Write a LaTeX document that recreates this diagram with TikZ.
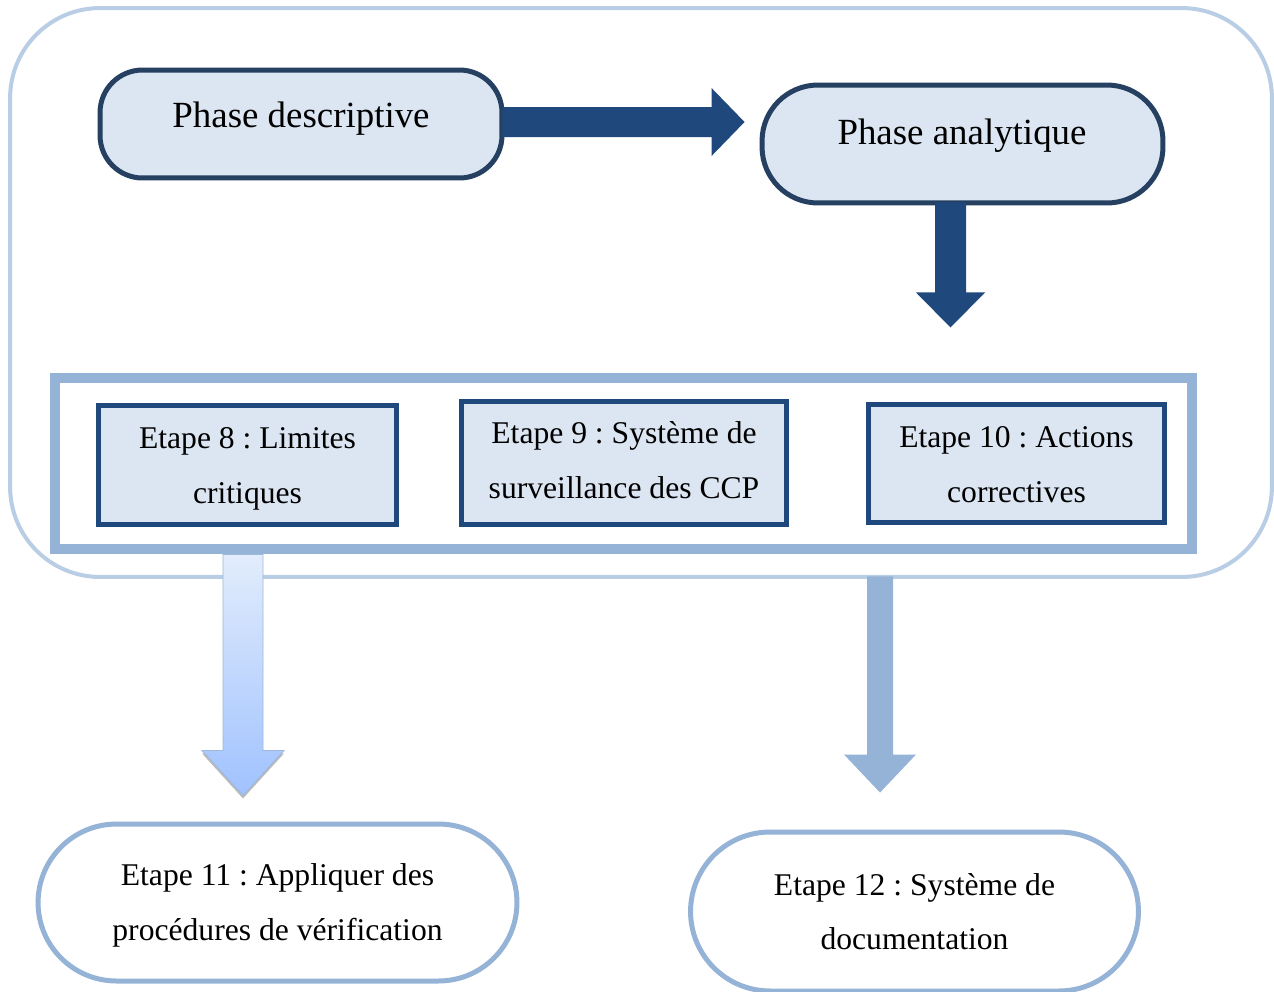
\documentclass[tikz,border=0pt]{standalone}
\usepackage{fontspec}
\setmainfont{Liberation Serif}
\usetikzlibrary{calc,shapes.misc}
\frenchspacing

\definecolor{frameblue}{HTML}{B9CDE5}
\definecolor{navyline}{HTML}{254061}
\definecolor{paleblue}{HTML}{DCE6F2}
\definecolor{arrownavy}{HTML}{1F497D}
\definecolor{midblue}{HTML}{95B3D7}
\definecolor{gradtop}{HTML}{E2ECFC}
\definecolor{gradbot}{HTML}{A0C2FF}
\definecolor{gradedge}{HTML}{9DB8DA}

\begin{document}
\begin{tikzpicture}[x=0.02cm,y=-0.02cm,
  phasebox/.style={draw=navyline, fill=paleblue, line width=0.1cm, inner sep=0pt},
  phasetext/.style={font=\fontsize{21}{25}\selectfont, inner sep=0pt},
  stepbox/.style={draw=arrownavy, fill=paleblue, line width=0.1cm, inner sep=0pt},
  endbox/.style={rounded rectangle, draw=midblue, fill=white, line width=0.1cm, inner sep=0pt},
  steptext/.style={align=center, inner sep=0pt, font=\fontsize{18}{31}\selectfont},
  navyarrow/.style={fill=arrownavy},
  lightarrow/.style={fill=midblue}]

\useasboundingbox (0,0) rectangle (1274,991);
\clip (0,0) rectangle (1274,991);

% outer rounded frame around the first two phases
\node[draw=frameblue, line width=0.08cm, rounded corners=1.8cm,
      minimum width=25.24cm, minimum height=11.38cm, inner sep=0pt] (frame) at (641,292.5) {};

% container holding steps 8 to 10
\node[draw=midblue, fill=white, line width=0.2cm, minimum width=22.74cm,
      minimum height=3.42cm, inner sep=0pt] (steps) at (623.5,463.5) {};

\node[stepbox, minimum width=5.98cm, minimum height=2.4cm] (s8) at (247.5,465) {};
\node[steptext] (s8t) at ($(s8)+(0,4)$) {Etape 8 : Limites\\critiques};
\node[stepbox, minimum width=6.52cm, minimum height=2.48cm] (s9) at (624,463) {};
\node[steptext] (s9t) at ($(s9)+(0,-3)$) {Etape 9 : Système de\\surveillance des CCP};
\node[stepbox, minimum width=5.94cm, minimum height=2.38cm] (s10) at (1016.5,463.5) {};
\node[steptext] (s10t) at ($(s10)+(0,1)$) {Etape 10 : Actions\\correctives};

% the two phases
\node[phasebox, rounded corners=0.85cm, minimum width=8.04cm, minimum height=2.16cm] (pd) at (301,124) {};
\node[phasetext] (pdt) at (301,119) {Phase descriptive};
\node[phasebox, rounded corners=1.12cm, minimum width=8.02cm, minimum height=2.36cm] (pa) at (962.5,144) {};
\node[phasetext] (pat) at (962,136) {Phase analytique};

% final steps
\node[endbox, minimum width=9.58cm, minimum height=3.14cm] (s11) at (277.5,902.5) {};
\node[steptext] (s11t) at ($(s11)+(0,3)$) {Etape 11 : Appliquer des\\procédures de vérification};
\node[endbox, minimum width=8.96cm, minimum height=3.18cm] (s12) at (914.5,911.5) {};
\node[steptext] (s12t) at (s12) {Etape 12 : Système de\\documentation};

% arrow end points
\coordinate (a1s) at ($(pd.east)+(-2,-2)$);
\coordinate (a1t) at ($(pa.west)+(-15,-22)$);
\coordinate (a2s) at ($(pa.south)+(-12,-3)$);
\coordinate (a2t) at ($(pa.south)+(-12,122)$);
\coordinate (a3s) at ($(s8.south)+(-4.5,27)$);
\coordinate (a3t) at ($(s11.north)+(-34.5,-26)$);
\coordinate (a4s) at ($(s10.south)+(-136.5,51)$);
\coordinate (a4t) at ($(s12.north)+(-34.5,-37)$);

% descriptive -> analytique
\fill[navyarrow] ($(a1s)+(0,-15)$) -- ($(a1t)+(-33,-15)$) -- ($(a1t)+(-33,-34)$) -- (a1t)
  -- ($(a1t)+(-33,34)$) -- ($(a1t)+(-33,15)$) -- ($(a1s)+(0,15)$) -- cycle;

% analytique -> steps
\fill[navyarrow] ($(a2s)+(-15.5,0)$) -- ($(a2t)+(-15.5,-35)$) -- ($(a2t)+(-34.5,-35)$) -- (a2t)
  -- ($(a2t)+(34.5,-35)$) -- ($(a2t)+(15.5,-35)$) -- ($(a2s)+(15.5,0)$) -- cycle;

% steps -> step 11 (gradient arrow with a soft shadow under its head)
\fill[gray!75, opacity=0.7] ($(a3t)+(-41,-42)$) -- ($(a3t)+(0,3)$) -- ($(a3t)+(41,-42)$) -- cycle;
\shade[top color=gradtop, bottom color=gradbot, draw=gradedge, line width=0.5pt]
  ($(a3s)+(-20,0)$) -- ($(a3t)+(-20,-45)$) -- ($(a3t)+(-41,-45)$) -- (a3t)
  -- ($(a3t)+(41,-45)$) -- ($(a3t)+(20,-45)$) -- ($(a3s)+(20,0)$) -- cycle;

% steps -> step 12
\fill[lightarrow] ($(a4s)+(-13,0)$) -- ($(a4t)+(-13,-38)$) -- ($(a4t)+(-36,-38)$) -- (a4t)
  -- ($(a4t)+(36,-38)$) -- ($(a4t)+(13,-38)$) -- ($(a4s)+(13,0)$) -- cycle;

\end{tikzpicture}
\end{document}
